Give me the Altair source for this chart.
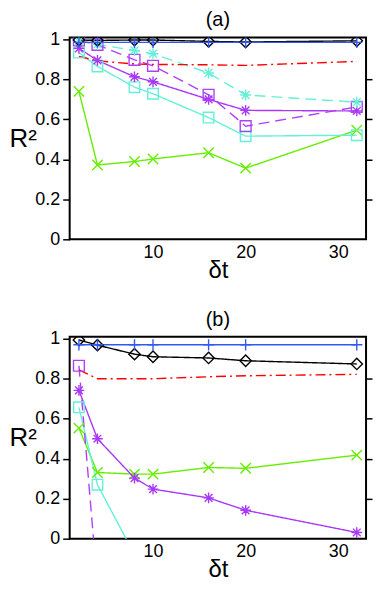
import altair as alt
import pandas as pd

x_vals = [2, 4, 8, 10, 16, 20, 32]

# Panel (a)
black_a = [0.997, 0.995, 0.997, 0.997, 0.990, 0.987, 0.993]
blue_a = [0.985, 0.985, 0.985, 0.985, 0.985, 0.985, 0.985]
red_a = [0.915, 0.893, 0.877, 0.875, 0.873, 0.870, 0.890]
cyan_dash_a = [0.990, 0.975, 0.945, 0.928, 0.832, 0.722, 0.686]
mag_dash_a = [0.995, 0.973, 0.898, 0.868, 0.723, 0.566, 0.662]
mag_solid_a = [0.955, 0.895, 0.813, 0.788, 0.700, 0.645, 0.642]
cyan_solid_a = [0.934, 0.865, 0.761, 0.728, 0.609, 0.516, 0.521]
green_a = [0.740, 0.372, 0.389, 0.402, 0.433, 0.356, 0.546]

# Panel (b)
black_b = [0.994, 0.968, 0.923, 0.910, 0.904, 0.890, 0.874]
blue_b = [0.970, 0.970, 0.970, 0.970, 0.970, 0.970, 0.970]
red_b = [0.845, 0.800, 0.800, 0.800, 0.810, 0.815, 0.822]
mag_dash_b = [0.865, -0.235]
mag_solid_b = [0.742, 0.500, 0.303, 0.248, 0.204, 0.142, 0.031]
cyan_solid_b = [0.657, 0.270, -0.080]
green_b = [0.553, 0.331, 0.323, 0.323, 0.356, 0.352, 0.418]

series_ids = ["black", "blue", "red", "cyan_dash", "mag_dash", "mag_solid", "cyan_solid", "green"]
colors = ["#000000", "#3358f0", "#ff0000", "#66f0d8", "#b040f8", "#a838f8", "#66f0d8", "#66ee00"]
dashes = [[1, 0], [1, 0], [10, 4, 2, 4], [11, 6], [11, 6], [1, 0], [1, 0], [1, 0]]
PLUS = "M-1,0L1,0M0,-1L0,1"
AST = "M-1,0L1,0M0,-1L0,1M-0.72,-0.72L0.72,0.72M-0.72,0.72L0.72,-0.72"
XS = "M-1,-1L1,1M-1,1L1,-1"
shapes = ["diamond", PLUS, "circle", AST, "square", AST, "square", XS]
sizes = [130, 110, 10, 120, 95, 120, 95, 70]


def make_df(series_map):
    rows = []
    for sid, vals in series_map.items():
        for xv, yv in zip(x_vals, vals):
            rows.append({"x": xv, "y": yv, "s": sid})
    return pd.DataFrame(rows)


df_a = make_df({
    "green": green_a, "cyan_solid": cyan_solid_a, "mag_solid": mag_solid_a,
    "mag_dash": mag_dash_a, "cyan_dash": cyan_dash_a, "red": red_a,
    "black": black_a, "blue": blue_a,
})
df_b = make_df({
    "green": green_b, "cyan_solid": cyan_solid_b, "mag_solid": mag_solid_b,
    "mag_dash": mag_dash_b, "red": red_b, "black": black_b, "blue": blue_b,
})

FONT = "Liberation Sans"
W, H = 298, 203
x_scale = alt.Scale(domain=[1, 33], nice=False, zero=False)
color_enc = alt.Color("s:N", scale=alt.Scale(domain=series_ids, range=colors), legend=None)
dash_enc = alt.StrokeDash("s:N", scale=alt.Scale(domain=series_ids, range=dashes), legend=None)
shape_enc = alt.Shape("s:N", scale=alt.Scale(domain=series_ids, range=shapes), legend=None)
size_enc = alt.Size("s:N", scale=alt.Scale(domain=series_ids, range=sizes), legend=None)

label_expr = "datum.value == 0 || datum.value == 1 ? format(datum.value, 'd') : format(datum.value, '.1f')"


def panel(df, title):
    x_enc = alt.X("x:Q", scale=x_scale,
                  axis=alt.Axis(values=[10, 20, 30], title="δt", ticks=False, grid=False,
                                domain=False, labelFontSize=18, labelFont=FONT,
                                labelColor="black", titleFontSize=24, titleFont=FONT,
                                titleFontWeight="normal", titleColor="black",
                                labelPadding=4, titlePadding=-3))
    y_left = alt.Y("y:Q", scale=alt.Scale(domain=[0, 1.01], nice=False),
                   axis=alt.Axis(values=[0, 0.2, 0.4, 0.6, 0.8, 1], labelExpr=label_expr,
                                 title="R²", titleAngle=0, titleAlign="left",
                                 titleBaseline="middle", titleX=-61, titleY=H / 2,
                                 titleFontSize=26, titleFont=FONT, titleFontWeight="normal",
                                 titleColor="black", grid=False, domain=False,
                                 tickSize=7, tickWidth=1.5, tickColor="black",
                                 labelFontSize=18, labelFont=FONT, labelColor="black",
                                 labelPadding=3))
    y_right = alt.Y("yr:Q", scale=alt.Scale(domain=[0, 1.01], nice=False),
                    axis=alt.Axis(orient="right", values=[0.2, 0.4, 0.6, 0.8], labels=False,
                                  title=None, grid=False, domain=False, tickSize=6,
                                  tickWidth=1.5, tickColor="black"))
    base = alt.Chart(df)
    lines = base.mark_line(clip=True, strokeWidth=1.4).encode(
        x=x_enc, y=y_left, color=color_enc, strokeDash=dash_enc, detail="s:N")
    points = base.transform_filter("datum.s != 'red'").mark_point(
        clip=True, filled=False, strokeWidth=1.4, opacity=1).encode(
        x=x_enc, y=y_left, color=color_enc, shape=shape_enc, size=size_enc)
    inner = alt.layer(lines, points)
    right = base.transform_calculate(yr="datum.y").mark_point(opacity=0, clip=True).encode(
        x=x_enc, y=y_right)
    return alt.layer(inner, right).resolve_scale(y="independent").resolve_axis(
        y="independent").properties(
        width=W, height=H,
        title=alt.TitleParams(title, fontSize=20, font=FONT, fontWeight="normal",
                              color="black", offset=0))


chart = alt.vconcat(panel(df_a, "(a)"), panel(df_b, "(b)"), spacing=26).configure_view(
    stroke="black", strokeWidth=2).properties(
    padding={"left": 0, "top": 0, "right": 0, "bottom": 0})

chart.save("out.html", embed_options={"renderer": "svg", "actions": False})
